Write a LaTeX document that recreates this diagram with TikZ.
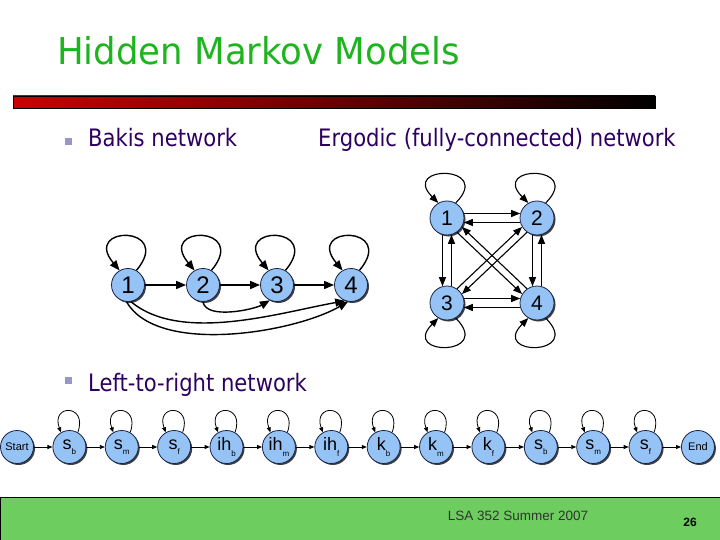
\documentclass[tikz,border=0pt]{standalone}
\usepackage{fontspec}
\setmainfont{DejaVu Sans}[FakeStretch=0.88]
\newfontfamily\titlefont{DejaVu Sans}[FakeStretch=0.96]
\newfontfamily\arialfont{Liberation Sans}
\usetikzlibrary{arrows.meta,shadows}
\definecolor{titlegreen}{RGB}{30,180,30}
\definecolor{bulletpurple}{RGB}{45,0,95}
\definecolor{bulletbox}{RGB}{150,150,200}
\definecolor{statefill}{RGB}{150,195,245}
\definecolor{stateedge}{RGB}{25,35,70}
\definecolor{barred}{RGB}{205,0,0}
\definecolor{footgreen}{RGB}{110,205,95}
\newcommand{\sub}[1]{\raisebox{-0.55ex}{\fontsize{8}{8}\selectfont #1}}
\newcommand{\smalllbl}[1]{{\fontsize{11}{11}\selectfont #1}}
\tikzset{
    hmmstate/.style={circle, draw=stateedge, line width=0.8pt, fill=statefill, inner sep=0pt,
        drop shadow={shadow xshift=1.5pt, shadow yshift=-1.5pt, fill=black!75, opacity=1}},
    bakisstate/.style={hmmstate, minimum size=33pt, font=\arialfont\fontsize{24}{24}\selectfont},
    ergostate/.style={hmmstate, minimum size=34pt, font=\arialfont\fontsize{21}{21}\selectfont},
    lrstate/.style={hmmstate, minimum size=33pt, font=\arialfont\fontsize{18}{18}\selectfont},
    bigarrow/.style={line width=1.4pt, -{Triangle[length=10pt,width=8pt]}},
    midarrow/.style={line width=1.1pt, -{Triangle[length=9pt,width=7pt]}},
    smallarrow/.style={line width=0.8pt, -{Triangle[length=5pt,width=4pt]}},
    bullettext/.style={anchor=base west, inner sep=0pt, text=bulletpurple, font=\fontsize{24}{24}\selectfont}
}
\begin{document}
\begin{tikzpicture}[x=1pt,y=1pt]
            \useasboundingbox (0,0) rectangle (720,-540);
            \node[anchor=base west, inner sep=0pt, text=titlegreen, font=\titlefont\fontsize{37}{37}\selectfont] (title) at (57,-65) {Hidden Markov Models};
            \draw[left color=barred, right color=black, line width=0.6pt] (13,-96) rectangle (655,-108);

            \fill[bulletbox] (65,-138) rectangle (72,-145);
            \node[bullettext] (bakis) at (88,-147) {Bakis network};
            \node[bullettext] (ergodic) at (318,-147) {Ergodic (fully-connected) network};
            \fill[bulletbox] (65,-377) rectangle (72,-384);
            \node[bullettext] (lefttoright) at (88,-391) {Left-to-right network};

            \foreach \i/\x in {1/128,2/203,3/277,4/351}
                \node[bakisstate] (b\i) at (\x,-285) {\i};
            \foreach \i in {1,...,4}
                \draw[bigarrow] (b\i.60) to[out=50,in=130,looseness=9] (b\i.120);
            \foreach \i/\j in {1/2,2/3,3/4}
                \draw[bigarrow] (b\i) -- (b\j);
            \draw[bigarrow] (b2.-90) to[out=-80,in=-150,looseness=0.7] (b3.-115);
            \draw[bigarrow] (b1.-80) to[out=-40,in=-170,looseness=0.78] (b4.-110);
            \draw[bigarrow] (b1.-95) to[out=-60,in=-150,looseness=0.72] (b4.-100);

            \node[ergostate] (e1) at (447,-218) {1};
            \node[ergostate] (e2) at (537,-218) {2};
            \node[ergostate] (e3) at (447,-303) {3};
            \node[ergostate] (e4) at (537,-303) {4};
            \foreach \i in {1,2}
                \draw[midarrow] (e\i.60) to[out=45,in=135,looseness=8] (e\i.120);
            \foreach \i in {3,4}
                \draw[midarrow] (e\i.-60) to[out=-45,in=-135,looseness=8] (e\i.-120);
            \draw[midarrow] (e1.15) -- (e2.165);
            \draw[midarrow] (e2.-165) -- (e1.-15);
            \draw[midarrow] (e3.15) -- (e4.165);
            \draw[midarrow] (e4.-165) -- (e3.-15);
            \draw[midarrow] (e1.-105) -- (e3.105);
            \draw[midarrow] (e3.75) -- (e1.-75);
            \draw[midarrow] (e2.-105) -- (e4.105);
            \draw[midarrow] (e4.75) -- (e2.-75);
            \draw[midarrow] (e1.-55) -- (e4.149);
            \draw[midarrow] (e4.125) -- (e1.-31);
            \draw[midarrow] (e2.-125) -- (e3.31);
            \draw[midarrow] (e3.55) -- (e2.-149);

            \foreach \lbl [count=\i] in {\smalllbl{Start}, s\sub{b}, s\sub{m}, s\sub{f}, ih\sub{b}, ih\sub{m}, ih\sub{f},
                    k\sub{b}, k\sub{m}, k\sub{f}, s\sub{b}, s\sub{m}, s\sub{f}, \smalllbl{End}}
                \node[lrstate] (l\i) at ({17+(\i-1)*52.38},-447) {\lbl};
            \foreach \i [evaluate=\i as \j using int(\i+1)] in {1,...,13}
                \draw[smallarrow] (l\i) -- (l\j);
            \foreach \i in {2,...,13}
                \draw[smallarrow] (l\i.60) to[out=70,in=110,looseness=4.6] (l\i.120);

            \draw[fill=footgreen, line width=0.8pt] (0.5,-497) rectangle (720,-540);
            \node[font=\arialfont\fontsize{13.5}{13.5}\selectfont, text=black!80] (venue) at (518,-516) {LSA 352 Summer 2007};
            \node[font=\arialfont\bfseries\fontsize{12}{12}\selectfont] (page) at (690,-522) {26};
\end{tikzpicture}
\end{document}
